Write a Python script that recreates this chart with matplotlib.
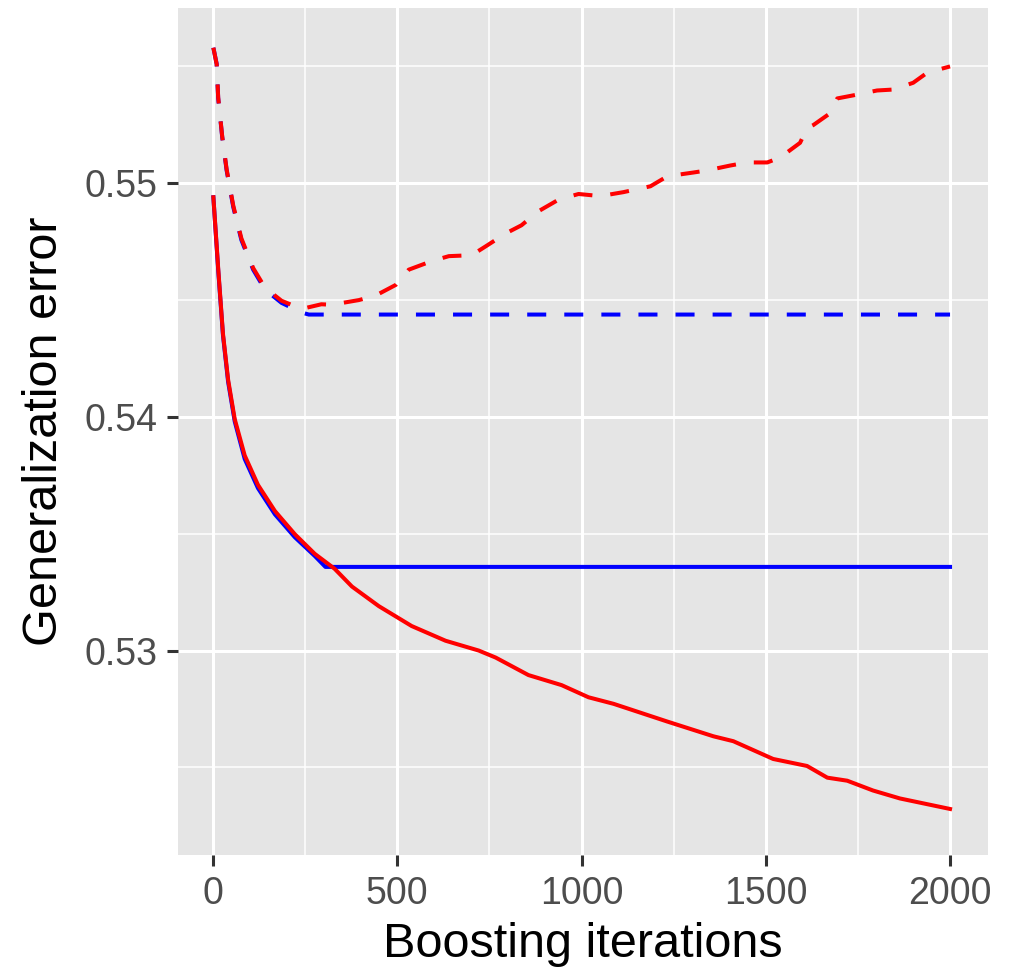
import matplotlib
matplotlib.use("Agg")
import matplotlib.pyplot as plt
from matplotlib.ticker import MultipleLocator

plt.rcParams['font.family'] = ['Liberation Sans', 'DejaVu Sans']
plt.rcParams['lines.scale_dashes'] = False

# Red dashed (test error, no early stopping)
red_dash_x = [1, 10, 14, 25, 37, 55, 77, 109, 141, 186, 240, 294, 322, 396, 442, 496, 531, 594, 640,
              702, 740, 794, 837, 883, 938, 992, 1051, 1114, 1187, 1233, 1304, 1341, 1404, 1450, 1504,
              1539, 1593, 1612, 1629, 1675, 1694, 1737, 1802, 1846, 1900, 1938, 2000]
red_dash_y = [0.5558, 0.55509, 0.55368, 0.5520, 0.55059, 0.54904, 0.54764, 0.54637, 0.54553, 0.54497,
              0.54462, 0.54482, 0.5448, 0.5450, 0.5452, 0.54565, 0.5463, 0.54667, 0.54688, 0.54692,
              0.5473, 0.54785, 0.5482, 0.5488, 0.5493, 0.54954, 0.54945, 0.54962, 0.54987, 0.5503,
              0.55046, 0.55055, 0.55076, 0.55089, 0.55089, 0.5511, 0.55173, 0.55236, 0.55249, 0.5530,
              0.55363, 0.55376, 0.55397, 0.55401, 0.5543, 0.55473, 0.5550]

# Blue dashed (test error, early stopping)
blue_dash_x = [1, 10, 14, 25, 37, 55, 77, 109, 141, 186, 240, 260, 2000]
blue_dash_y = [0.5558, 0.5551, 0.55365, 0.55197, 0.55055, 0.54898, 0.54757, 0.5463, 0.54545, 0.54488,
               0.54447, 0.54438, 0.54438]

# Red solid (training error, no early stopping)
red_solid_x = [1, 14, 27, 41, 59, 86, 122, 168, 222, 276, 330, 377, 450, 539, 631, 721, 767, 856,
               946, 1019, 1087, 1233, 1358, 1412, 1520, 1612, 1667, 1721, 1791, 1864, 2000]
red_solid_y = [0.5494, 0.54637, 0.54356, 0.54159, 0.5399, 0.53835, 0.53709, 0.53597, 0.53498,
               0.53414, 0.5335, 0.53274, 0.5319, 0.53105, 0.53042, 0.5300, 0.5297, 0.52895, 0.52852,
               0.52800, 0.52772, 0.52696, 0.52633, 0.52612, 0.52536, 0.52506, 0.52456, 0.52443,
               0.52401, 0.52367, 0.52322]

# Blue solid (training error, early stopping)
blue_solid_x = [1, 14, 27, 41, 59, 86, 122, 168, 222, 276, 305, 2000]
blue_solid_y = [0.5494, 0.5463, 0.5435, 0.5415, 0.5398, 0.5382, 0.53695, 0.53583, 0.53485, 0.53405,
                0.53358, 0.53358]

x_ticks = [0, 500, 1000, 1500, 2000]
x_tick_labels = ["0", "500", "1000", "1500", "2000"]
y_ticks = [0.53, 0.54, 0.55]
y_tick_labels = ["0.53", "0.54", "0.55"]

fig, ax = plt.subplots(figsize=(10.09, 9.8), dpi=100)
fig.subplots_adjust(left=178/1009, right=988/1009, bottom=1 - 855/980, top=1 - 8/980)

lw = 2.9
dash = (0, (13.7, 13.0))
ax.plot(blue_dash_x, blue_dash_y, color='#0000FF', lw=lw, linestyle=dash, dash_capstyle='butt', zorder=3)
ax.plot(red_dash_x, red_dash_y, color='#FF0000', lw=lw, linestyle=dash, dash_capstyle='butt', zorder=4)
ax.plot(blue_solid_x, blue_solid_y, color='#0000FF', lw=lw, zorder=3)
ax.plot(red_solid_x, red_solid_y, color='#FF0000', lw=lw, zorder=4)

ax.set_xlim(-95, 2103)
ax.set_ylim(0.52125, 0.5575)

for s in ax.spines.values():
    s.set_visible(False)
ax.xaxis.set_minor_locator(MultipleLocator(250))
ax.yaxis.set_minor_locator(MultipleLocator(0.005))
ax.tick_params(axis='both', which='minor', length=0)
ax.grid(which='major', color='white', lw=2.2, zorder=1)
ax.grid(which='minor', color='white', lw=1.1, zorder=1)
ax.set_facecolor('#E5E5E5')
ax.set_xticks(x_ticks)
ax.set_xticklabels(x_tick_labels)
ax.set_yticks(y_ticks)
ax.set_yticklabels(y_tick_labels)
ax.tick_params(axis='both', which='major', direction='out', length=8, width=2.2,
               color='#333333', labelsize=27, labelcolor='#4D4D4D', pad=7)

ax.set_xlabel('Boosting iterations', fontsize=35, color='black', labelpad=7)
ax.set_ylabel('Generalization error', fontsize=35, color='black', labelpad=12)

fig.savefig('out.png', dpi=100, facecolor='white')
